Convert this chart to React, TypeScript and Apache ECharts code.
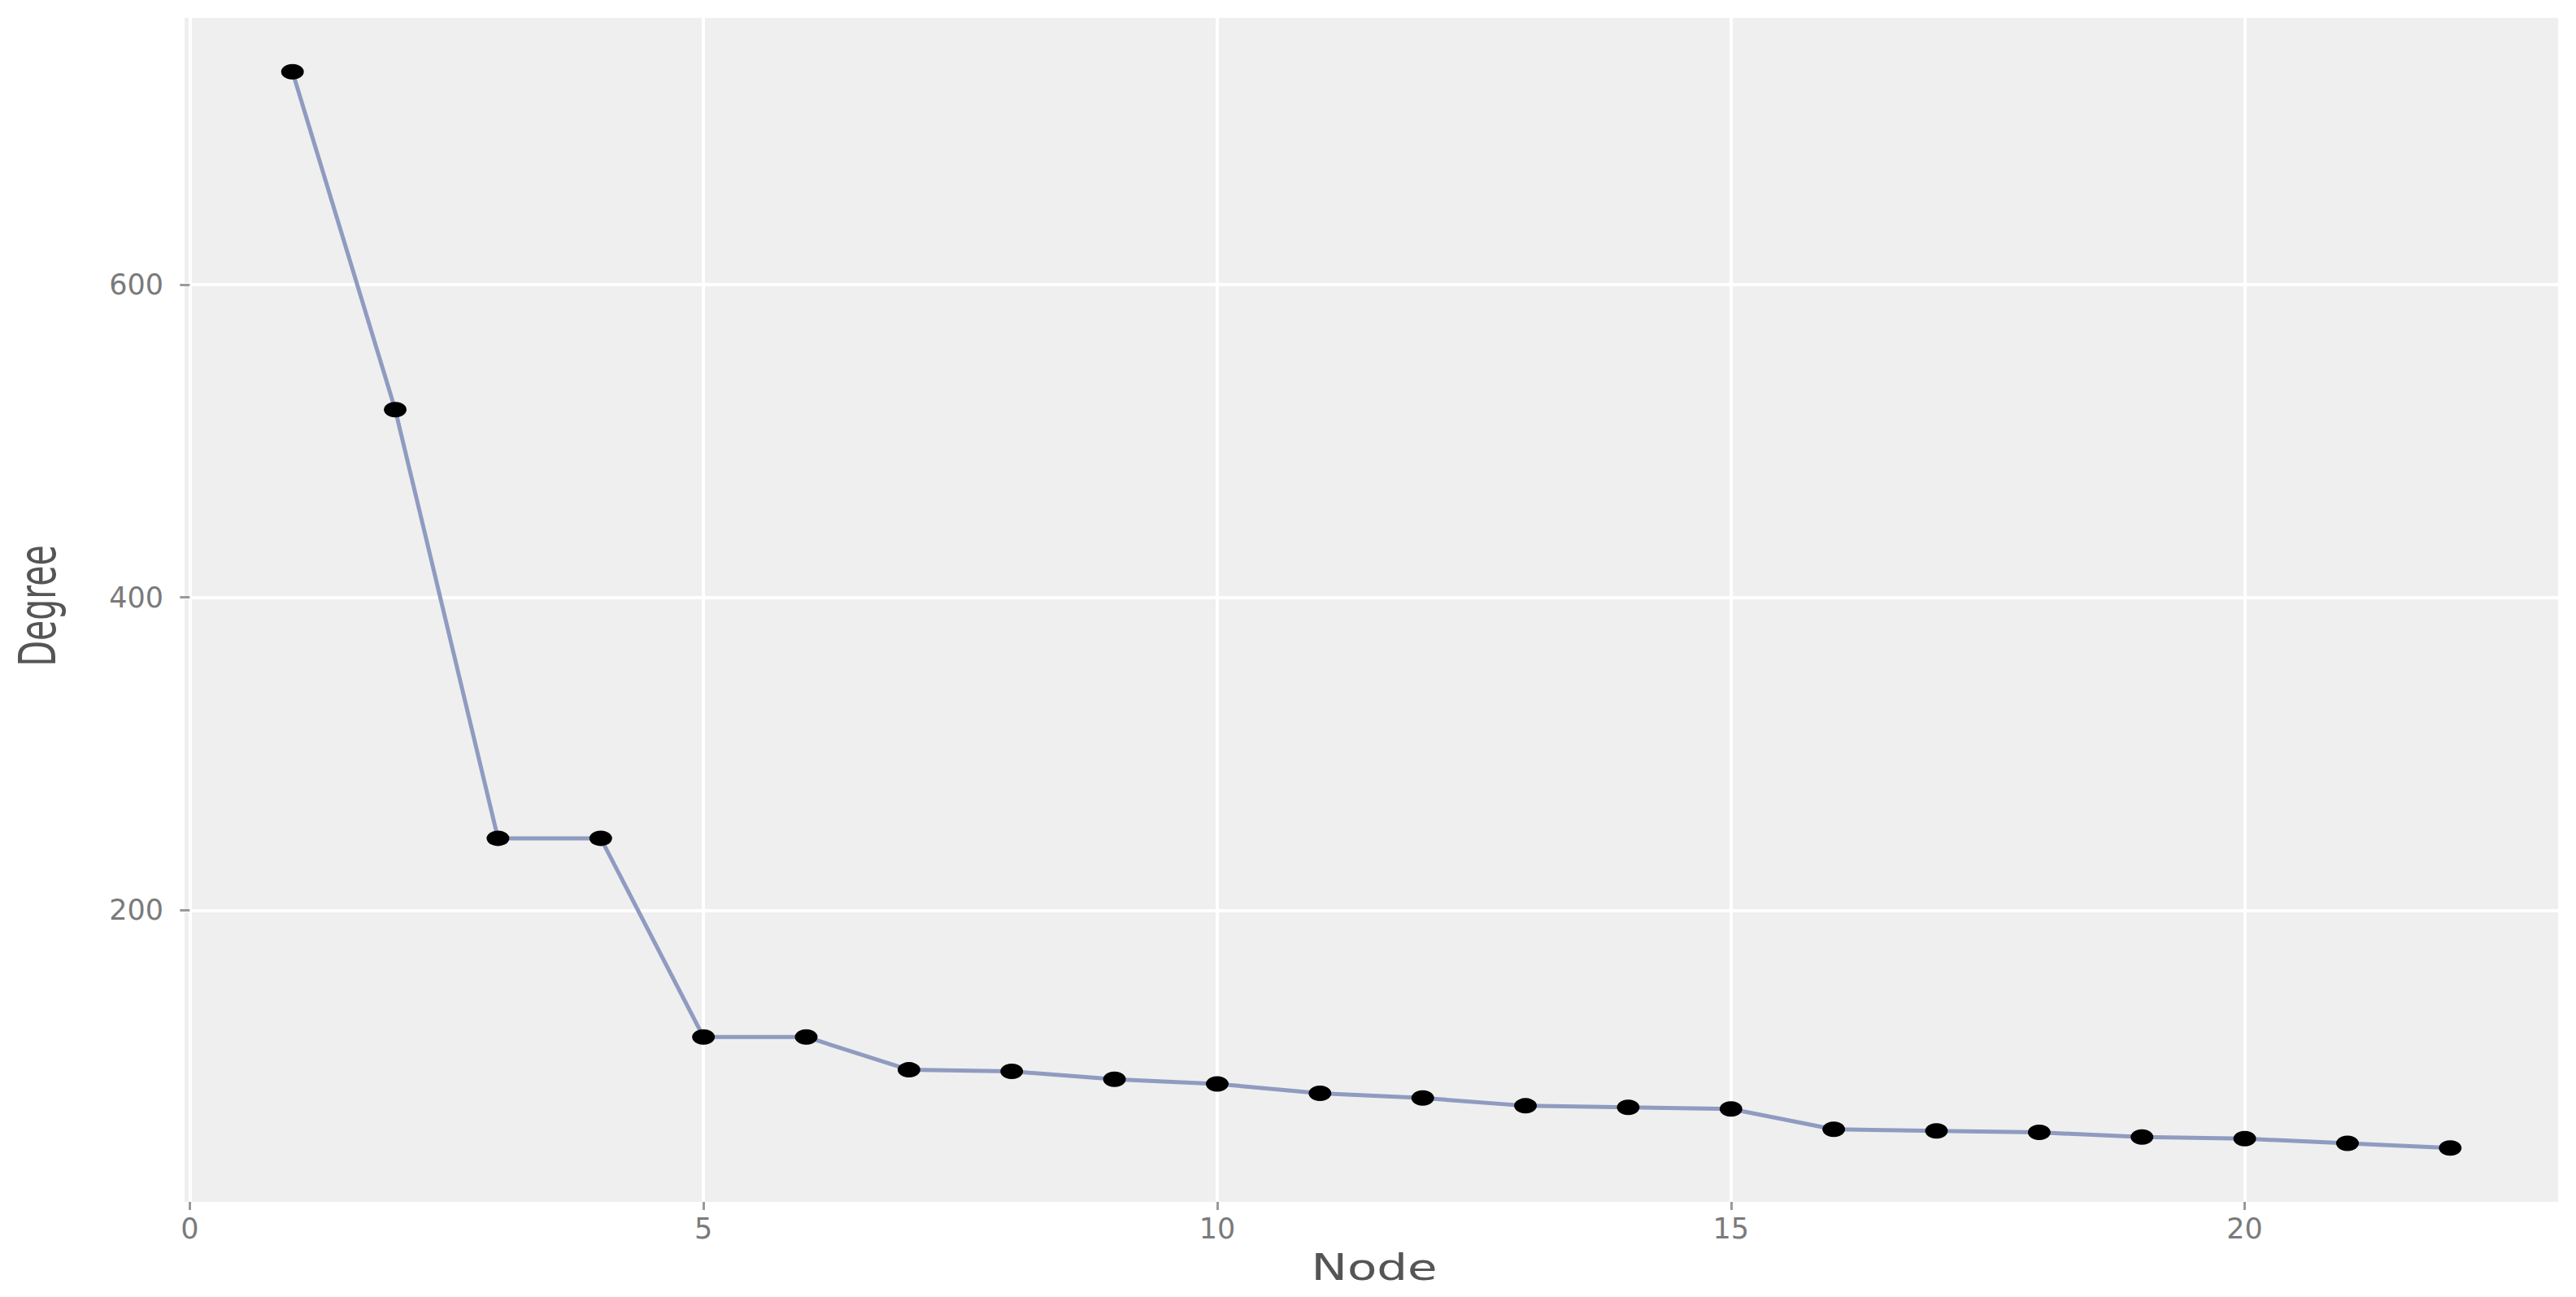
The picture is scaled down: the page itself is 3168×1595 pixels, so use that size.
import React, { useEffect, useRef } from "react";
import * as echarts from "echarts";

const nodes = [1, 2, 3, 4, 5, 6, 7, 8, 9, 10, 11, 12, 13, 14, 15, 16, 17, 18, 19, 20, 21, 22];
const degrees = [736, 520, 246, 246, 119, 119, 98, 97, 92, 89, 83, 80, 75, 74, 73, 60, 59, 58, 55, 54, 51, 48];
const xTicks = [0, 5, 10, 15, 20];
const yTicks = [200, 400, 600];
const xTitle = "Node";
const yTitle = "Degree";

export default function App() {
  const ref = useRef<HTMLDivElement>(null);
  useEffect(() => {
    if (!ref.current) return;
    const chart = echarts.init(ref.current, null, { renderer: "svg" });
    const tickLabel = {
      color: "#7a7a7a",
      fontFamily: "DejaVu Sans",
      fontSize: 35,
    };
    chart.setOption({
      animation: false,
      backgroundColor: "#ffffff",
      grid: {
        left: 227,
        right: 22,
        top: 22,
        bottom: 117,
        show: true,
        backgroundColor: "#EFEFEF",
        borderWidth: 0,
        containLabel: false,
      },
      xAxis: {
        type: "value",
        min: -0.05,
        max: 23.05,
        axisLine: { show: false },
        axisTick: {
          show: true,
          length: 10,
          lineStyle: { color: "#9a9a9a", width: 3 },
          customValues: xTicks,
        },
        axisLabel: { ...tickLabel, margin: 15, customValues: xTicks },
        splitLine: { show: true, lineStyle: { color: "#ffffff", width: 4 } },
      },
      yAxis: {
        type: "value",
        min: 13.6,
        max: 770.4,
        axisLine: { show: false },
        axisTick: {
          show: true,
          length: 12,
          lineStyle: { color: "#9a9a9a", width: 3 },
          customValues: yTicks,
        },
        axisLabel: { ...tickLabel, margin: 26, customValues: yTicks },
        splitLine: { show: true, lineStyle: { color: "#ffffff", width: 4 } },
      },
      graphic: [
        {
          type: "text",
          x: 1690,
          y: 1558,
          scaleX: 1.35,
          style: {
            text: xTitle,
            fontFamily: "DejaVu Sans",
            fontSize: 44,
            fill: "#555555",
            textAlign: "center",
            textVerticalAlign: "middle",
          },
        },
        {
          type: "text",
          x: 46,
          y: 745,
          rotation: Math.PI / 2,
          scaleY: 1.5,
          style: {
            text: yTitle,
            fontFamily: "DejaVu Sans",
            fontSize: 41,
            fill: "#555555",
            textAlign: "center",
            textVerticalAlign: "middle",
          },
        },
      ],
      series: [
        {
          type: "line",
          data: nodes.map((n, i) => [n, degrees[i]]),
          symbol: "circle",
          symbolSize: [28, 19],
          itemStyle: { color: "#000000" },
          lineStyle: { color: "#8F9BC0", width: 5 },
        },
      ],
    });
    return () => chart.dispose();
  }, []);
  return (
    <div
      ref={ref}
      style={{ position: "absolute", left: 0, top: 0, width: 3168, height: 1595 }}
    />
  );
}
